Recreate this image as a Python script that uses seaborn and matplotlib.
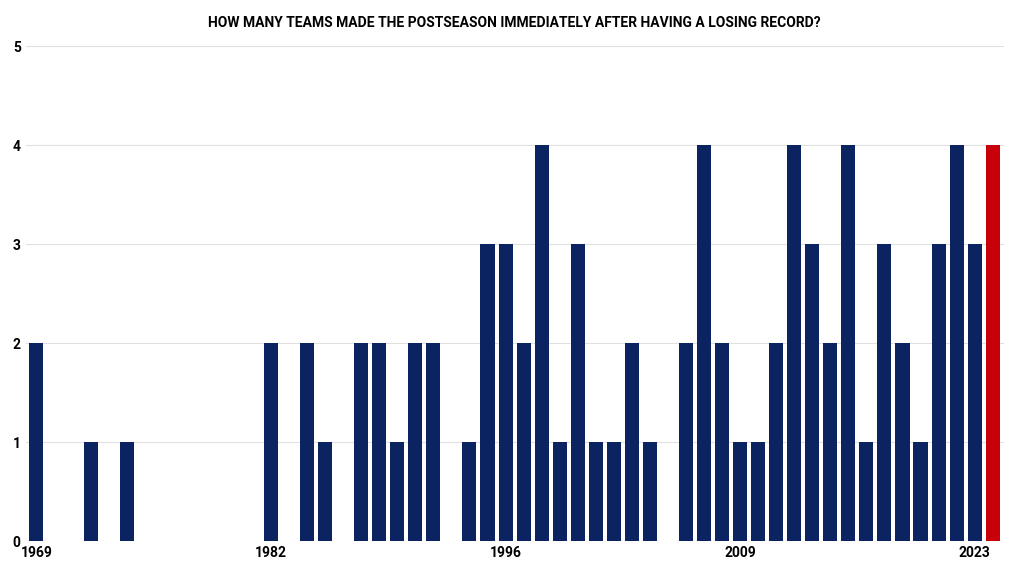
import matplotlib
matplotlib.use("Agg")
import matplotlib.pyplot as plt
import seaborn as sns
import pandas as pd

years = [y for y in range(1969, 2025) if y not in (1994, 2020)]
counts = [2,0,0,1,0,1,0,0,0,0,0,0,0,2,0,2,1,0,2,2,1,2,2,0,1,
          3,3,2,4,1,3,1,1,2,1,0,2,4,2,1,1,2,4,3,2,4,1,3,2,1,
          3,4,3,4]
shown_ticks = ["1969", "1982", "1996", "2009", "2023"]
highlight_year = "2024"

df = pd.DataFrame({"year": [str(y) for y in years], "count": counts})
palette = {y: ("#c8000a" if y == highlight_year else "#0b2360") for y in df["year"]}

fig, ax = plt.subplots(figsize=(10.24, 5.76), dpi=100)
sns.barplot(data=df, x="year", y="count", hue="year", palette=palette,
            legend=False, width=0.78, saturation=1, ax=ax)
ax.set_ylim(0, 5)
ax.set_yticks(range(6))
ax.grid(axis="y", color="#e0e0e0", linewidth=0.8)
ax.set_axisbelow(True)
labels = list(df["year"])
ax.set_xticks([labels.index(t) for t in shown_ticks])
ax.set_xticklabels(shown_ticks)
ax.set_xlim(-0.6, len(labels) - 0.4)
for s in ax.spines.values():
    s.set_visible(False)
ax.tick_params(length=0, labelsize=10)
for t in ax.get_xticklabels() + ax.get_yticklabels():
    t.set_fontweight("bold")
    t.set_fontfamily("Roboto")
ax.set_xlabel("")
ax.set_ylabel("")
ax.set_title("HOW MANY TEAMS MADE THE POSTSEASON IMMEDIATELY AFTER HAVING A LOSING RECORD?",
             fontsize=10, fontweight="bold", fontfamily="Roboto", pad=14)
plt.subplots_adjust(left=0.025, right=0.98, top=0.92, bottom=0.06)
fig.savefig("out.png")
